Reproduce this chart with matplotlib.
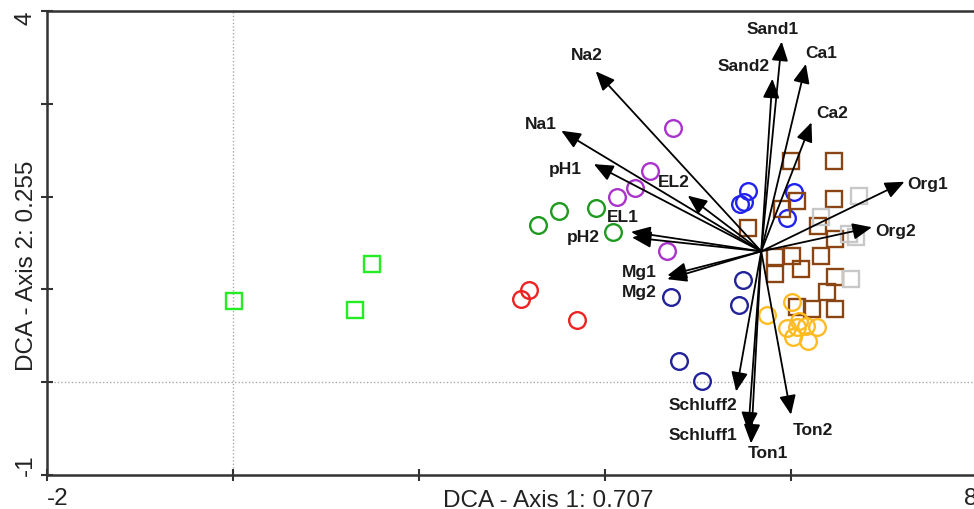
import matplotlib
matplotlib.use("Agg")
import matplotlib.pyplot as plt

plt.rcParams['font.family'] = ['Liberation Sans', 'DejaVu Sans']

# site scores per group (DCA axis 1, axis 2)
lime_sq_x = [0.01, 1.49, 1.31]
lime_sq_y = [0.87, 1.27, 0.78]
red_x = [3.10, 3.18, 3.70]
red_y = [0.90, 0.99, 0.67]
green_x = [3.28, 3.51, 3.90, 4.09]
green_y = [1.69, 1.84, 1.88, 1.62]
purple_x = [4.73, 4.48, 4.32, 4.13, 4.67]
purple_y = [2.74, 2.28, 2.09, 2.00, 1.41]
navy_x = [4.71, 5.48, 5.44, 4.80, 5.04]
navy_y = [0.92, 1.10, 0.83, 0.23, 0.01]
blue_x = [5.54, 5.45, 5.49, 6.03, 5.96]
blue_y = [2.06, 1.92, 1.94, 2.05, 1.77]
brown_x = [6.00, 6.46, 6.46, 6.06, 5.90, 5.54, 6.29, 6.47, 5.83, 6.01,
           6.32, 5.83, 6.11, 6.47, 6.39, 6.06, 6.23, 6.47]
brown_y = [2.38, 2.38, 1.97, 1.95, 1.87, 1.66, 1.68, 1.54, 1.35, 1.36,
           1.36, 1.17, 1.22, 1.13, 0.97, 0.81, 0.79, 0.79]
grey_x = [6.73, 6.32, 6.62, 6.70, 6.65]
grey_y = [2.01, 1.78, 1.60, 1.56, 1.11]
orange_x = [6.01, 5.74, 5.96, 6.06, 6.16, 6.28, 6.02, 6.18, 6.09]
orange_y = [0.86, 0.72, 0.58, 0.59, 0.61, 0.60, 0.49, 0.44, 0.66]

# environmental vectors
origin = (5.68, 1.41)
env_names = ['Sand1', 'Sand2', 'Ca1', 'Ca2', 'Org1', 'Org2', 'EL2', 'EL1', 'pH2',
             'pH1', 'Na1', 'Na2', 'Mg1', 'Mg2', 'Schluff2', 'Schluff1', 'Ton1', 'Ton2']
env_x = [5.90, 5.80, 6.16, 6.22, 7.22, 6.87, 4.89, 4.28, 4.29,
         3.88, 3.53, 3.90, 4.67, 4.67, 5.41, 5.54, 5.57, 6.00]
env_y = [3.67, 3.27, 3.43, 2.80, 2.16, 1.67, 2.01, 1.62, 1.56,
         2.35, 2.71, 3.35, 1.15, 1.11, -0.10, -0.53, -0.66, -0.35]

# label offsets from arrow tips, in points
label_offsets = {
    'Sand1': (-6.5, 9.4), 'Sand2': (-21, 9.4), 'Ca1': (10.8, 7.9), 'Ca2': (15.1, 7.2),
    'Org1': (16.6, -1.4), 'Org2': (17.3, -2.2), 'EL2': (-10, 10), 'EL1': (-5.8, 10.8),
    'pH2': (-35.3, 0.7), 'pH1': (-20.2, -2.9), 'Na1': (-15.1, 5), 'Na2': (-6.5, 12.2),
    'Mg1': (-20.2, 2.9), 'Mg2': (-20.2, -8.6), 'Schluff2': (-23.8, -9.4),
    'Schluff1': (-32.4, -2.2), 'Ton1': (12.2, -6.5), 'Ton2': (15.8, -10.8),
}

fig = plt.figure(figsize=(9.74, 5.10), dpi=100)
ax = fig.add_axes([47 / 974, 34 / 510, 930 / 974, 464 / 510])
ax.set_xlim(-2, 8)
ax.set_ylim(-1, 4)

ax.axvline(0, color='#aaaaaa', lw=1.0, ls=(0, (1, 1.5)), zorder=0)
ax.axhline(0, color='#aaaaaa', lw=1.0, ls=(0, (1, 1.5)), zorder=0)

groups = [
    (lime_sq_x, lime_sq_y, 's', '#22ee22'),
    (red_x, red_y, 'o', '#ee2222'),
    (green_x, green_y, 'o', '#1f9a1f'),
    (purple_x, purple_y, 'o', '#aa33cc'),
    (navy_x, navy_y, 'o', '#22229a'),
    (blue_x, blue_y, 'o', '#2222ee'),
    (brown_x, brown_y, 's', '#8b4513'),
    (grey_x, grey_y, 's', '#c8c8c8'),
    (orange_x, orange_y, 'o', '#ffbb22'),
]
for gx, gy, mk, col in groups:
    ax.plot(gx, gy, mk, mfc='none', mec=col, ms=12, mew=1.7, zorder=2)

for name, tx, ty in zip(env_names, env_x, env_y):
    ax.annotate('', xy=(tx, ty), xytext=origin,
                arrowprops=dict(arrowstyle='-|>,head_length=0.65,head_width=0.28',
                                mutation_scale=18, color='black', lw=1.3,
                                shrinkA=0, shrinkB=0), zorder=3)
    ax.annotate(name, xy=(tx, ty), xytext=label_offsets[name], textcoords='offset points',
                ha='center', va='center', fontsize=12.5, fontweight='bold',
                color='#1a1a1a', zorder=4)

for sp in ax.spines.values():
    sp.set_linewidth(1.8)
    sp.set_color('#333333')

ax.set_xticks([-2, 0, 2, 4, 6, 8])
ax.set_xticklabels(['-2', '', '', '', '', '8'])
ax.set_yticks([-1, 0, 1, 2, 3, 4])
ax.set_yticklabels(['-1', '', '', '', '', '4'])
ax.tick_params(direction='inout', length=9, width=1.5, colors='#333333',
               labelsize=17.5, labelcolor='#222222')
ax.tick_params(axis='x', pad=4)
ax.tick_params(axis='y', pad=3)

xl = ax.get_xticklabels()
xl[0].set_ha('left')
xl[-1].set_ha('right')
yl = ax.get_yticklabels()
for t in yl:
    t.set_rotation(90)
    t.set_ha('right')
yl[0].set_va('bottom')
yl[-1].set_va('top')

ax.set_xlabel('DCA - Axis 1: 0.707', fontsize=17.5, color='#222222')
ax.xaxis.set_label_coords(0.539, -0.030)
ax.set_ylabel('DCA - Axis 2: 0.255', fontsize=17.5, color='#222222')
ax.yaxis.set_label_coords(-0.0097, 0.4526)

fig.savefig('out.png', dpi=100)
